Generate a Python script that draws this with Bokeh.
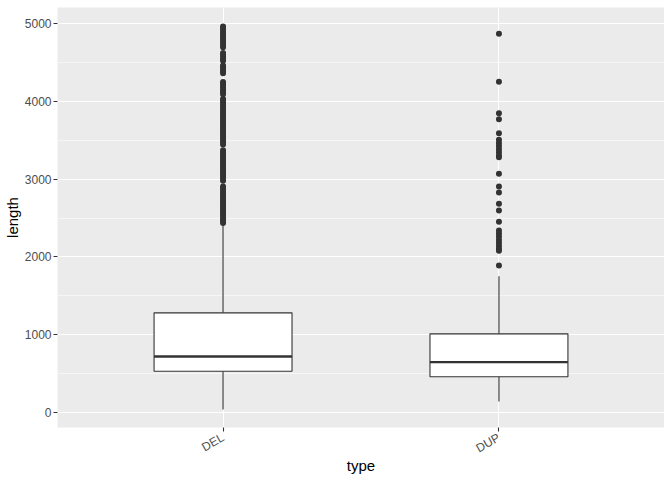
import math
from bokeh.plotting import figure
from bokeh.models import FactorRange, Range1d, SingleIntervalTicker, ColumnDataSource
from bokeh.transform import dodge
from bokeh.embed import file_html
from bokeh.resources import INLINE

types = ["DEL", "DUP"]
q1 = [531, 459]
median = [720, 647]
q3 = [1281, 1011]
lower = [39, 141]
upper = [2410, 1750]

del_outliers = [4962, 4935, 4910, 4882, 4858, 4830, 4805, 4778, 4750, 4722, 4695,
                4622, 4598, 4570, 4545, 4520,
                4462, 4440, 4412, 4385, 4360,
                4248, 4222, 4196, 4170, 4143, 4118, 4092,
                4030, 4005, 3978, 3950, 3925, 3898, 3870, 3845, 3818, 3792, 3765,
                3740, 3712, 3688, 3660, 3635, 3608, 3580, 3555, 3528, 3500, 3475, 3445,
                3370, 3345, 3318, 3290, 3265, 3238, 3212, 3185, 3160, 3132, 3105, 3080,
                3052, 3028, 3002, 2978,
                2905, 2880, 2852, 2826, 2800, 2772, 2748, 2720, 2695, 2668, 2642, 2615,
                2590, 2562, 2538, 2510, 2485, 2460, 2435]
dup_outliers = [4868, 4250, 3848, 3770, 3590, 3505, 3465, 3425, 3385, 3345, 3305, 3282,
                3068, 2905, 2828, 2683, 2596, 2451, 2339, 2300, 2262, 2222, 2182,
                2142, 2105, 2078, 1889]

FONT = "Liberation Sans"
DARK = "#333333"

p = figure(frame_width=607, frame_height=420,
           x_range=FactorRange(*types, range_padding=0.1, range_padding_units="absolute"),
           y_range=Range1d(-193, 5206),
           output_backend="svg", toolbar_location=None,
           min_border_left=49, min_border_right=0, min_border_top=7, min_border_bottom=0)

p.background_fill_color = "#EBEBEB"
p.border_fill_color = "white"
p.outline_line_color = None

box_src = ColumnDataSource(dict(type=types, q1=q1, median=median, q3=q3,
                                lower=lower, upper=upper))

# whiskers
p.segment(x0="type", y0="q3", x1="type", y1="upper", source=box_src,
          line_color=DARK, line_width=1.1)
p.segment(x0="type", y0="q1", x1="type", y1="lower", source=box_src,
          line_color=DARK, line_width=1.1)
# boxes
p.vbar(x="type", width=0.5, bottom="q1", top="q3", source=box_src,
       fill_color="white", line_color=DARK, line_width=1.1)
# medians
p.segment(x0=dodge("type", -0.25, range=p.x_range), y0="median",
          x1=dodge("type", 0.25, range=p.x_range), y1="median", source=box_src,
          line_color=DARK, line_width=2.3)

# outliers
p.scatter(x=["DEL"] * len(del_outliers), y=del_outliers, size=6,
          fill_color=DARK, line_color=None)
p.scatter(x=["DUP"] * len(dup_outliers), y=dup_outliers, size=6,
          fill_color=DARK, line_color=None)

# axes
p.yaxis.ticker = SingleIntervalTicker(interval=1000, num_minor_ticks=2)
for ax in (p.xaxis, p.yaxis):
    ax.axis_line_color = None
    ax.major_tick_line_color = DARK
    ax.major_tick_line_width = 1.1
    ax.major_tick_out = 4
    ax.major_tick_in = 0
    ax.minor_tick_line_color = None
    ax.major_label_text_font = FONT
    ax.major_label_text_font_size = "12px"
    ax.major_label_text_color = "#4D4D4D"
    ax.axis_label_text_font = FONT
    ax.axis_label_text_font_size = "15px"
    ax.axis_label_text_font_style = "normal"
    ax.axis_label_text_color = "black"

p.yaxis.major_label_standoff = 2
p.yaxis.axis_label_standoff = 1
p.xaxis.major_label_standoff = 5
p.xaxis.axis_label_standoff = -7

p.xaxis.axis_label = "type"
p.yaxis.axis_label = "length"
p.xaxis.major_label_orientation = math.pi / 6

p.xgrid.grid_line_color = "white"
p.xgrid.grid_line_width = 1.1
p.ygrid.grid_line_color = "white"
p.ygrid.grid_line_width = 1.1
p.ygrid.minor_grid_line_color = "white"
p.ygrid.minor_grid_line_width = 0.55

open("out.html", "w").write(file_html(p, INLINE))
